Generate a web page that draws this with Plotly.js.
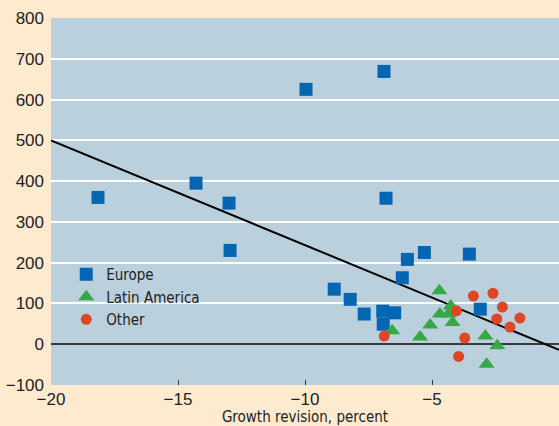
<!DOCTYPE html>
<html>
<head>
<meta charset="utf-8">
<script src="https://cdn.plot.ly/plotly-3.0.1.min.js"></script>
<style>html,body{margin:0;padding:0;background:#FEEBCF;}</style>
</head>
<body>
<div id="chart" style="width:559px;height:426px;"></div>
<script>
// Europe
const europeX = [-18.15, -14.29, -12.99, -12.95, -9.96, -6.89, -6.81, -5.97, -5.30, -6.17, -3.53, -8.85, -8.22, -7.67, -6.94, -6.47, -6.92, -3.10];
const europeY = [360, 395, 346, 230, 625, 669, 358, 208, 225, 163, 221, 135, 110, 74, 81, 77, 49, 86];
// Latin America
const latamX = [-4.71, -4.26, -4.69, -4.36, -4.19, -5.07, -5.47, -6.57, -2.90, -2.43, -2.85];
const latamY = [131, 94, 74, 74, 53, 47, 18, 33, 20, -4, -49];
// Other
const otherX = [-6.88, -4.04, -3.37, -2.60, -2.23, -1.54, -2.45, -1.93, -3.71, -3.95];
const otherY = [20, 82, 118, 125, 91, 64, 62, 42, 15, -30];
// Fitted line
const fitX = [-20, 0];
const fitY = [500, -14];
const xTicks = [-20, -15, -10, -5];
const yTicks = [-100, 0, 100, 200, 300, 400, 500, 600, 700, 800];

const tickFont = "'Liberation Sans', Arial, sans-serif";
const textFont = "'DejaVu Sans Condensed', 'Liberation Sans', Arial, sans-serif";

const traces = [
  {x: fitX, y: fitY, mode: 'lines', line: {color: '#000000', width: 2}, showlegend: false, hoverinfo: 'skip'},
  {x: europeX, y: europeY, mode: 'markers', name: 'Europe',
   marker: {symbol: 'square', size: 13, color: '#0465B2'}},
  {x: latamX, y: latamY, mode: 'markers', name: 'Latin America',
   marker: {symbol: 'triangle-up', size: 14, color: '#38A846'}},
  {x: otherX, y: otherY, mode: 'markers', name: 'Other',
   marker: {symbol: 'circle', size: 11, color: '#DF4624'}}
];

const layout = {
  width: 559, height: 426,
  margin: {l: 51, r: 0, t: 18, b: 41, pad: 0},
  paper_bgcolor: '#FEEBCF',
  plot_bgcolor: '#BBD0DD',
  font: {family: tickFont, size: 17, color: '#222222'},
  showlegend: true,
  legend: {x: 0.03, y: 0.346, xanchor: 'left', yanchor: 'top', bgcolor: 'rgba(0,0,0,0)',
           font: {family: textFont, size: 15, color: '#222222'}, tracegroupgap: 0, itemwidth: 30},
  xaxis: {
    range: [-20, 0], tickvals: xTicks, ticks: 'inside', ticklen: 5, tickwidth: 1, tickcolor: '#333333',
    showgrid: false, zeroline: false, showline: false, ticklabelstandoff: 2,
    tickfont: {family: tickFont, size: 17, color: '#222222'},
    title: {text: 'Growth revision, percent', font: {family: textFont, size: 15, color: '#222222'}, standoff: 5}
  },
  yaxis: {
    range: [-100, 800], tickvals: yTicks, ticks: '', showgrid: true, gridcolor: '#FFFFFF', gridwidth: 2,
    zeroline: true, zerolinecolor: '#3A3A3A', zerolinewidth: 2, showline: false,
    tickfont: {family: tickFont, size: 17, color: '#222222'}, ticklabelstandoff: 6
  },
  annotations: [{
    xref: 'paper', yref: 'paper', x: -0.09, y: 1.05, xanchor: 'left', yanchor: 'bottom',
    text: '(Change in sovereign spreads, basis points)', showarrow: false,
    font: {family: textFont, size: 15, color: '#222222'}
  }]
};

Plotly.newPlot('chart', traces, layout, {displayModeBar: false, staticPlot: true});
</script>
</body>
</html>
